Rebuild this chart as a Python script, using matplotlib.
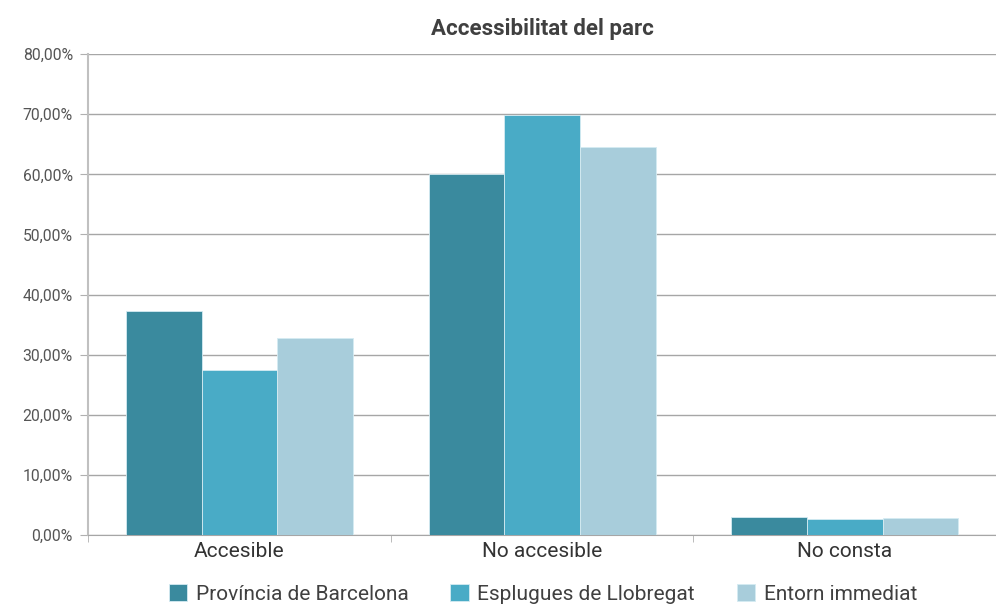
import numpy as np
import matplotlib.pyplot as plt
from matplotlib.ticker import FuncFormatter

plt.rcParams['font.family'] = ['Roboto', 'DejaVu Sans']

categories = ['Accesible', 'No accesible', 'No consta']
series = ['Província de Barcelona', 'Esplugues de Llobregat', 'Entorn immediat']
provincia = [37.25, 60.0, 3.0]
esplugues = [27.4, 69.85, 2.6]
entorn = [32.8, 64.5, 2.8]
colors = ['#3a8a9e', '#49abc6', '#a8cddb']

fig = plt.figure(figsize=(9.96, 6.15), dpi=100)
ax = fig.add_axes([0.0884, 0.130, 0.9116, 0.782])

x = np.arange(len(categories))
w = 0.25
for i, (vals, name) in enumerate(zip([provincia, esplugues, entorn], series)):
    ax.bar(x + (i - 1) * w, vals, w, color=colors[i], label=name,
           edgecolor='#d5ebf2', linewidth=0.6, zorder=3)

ax.set_xlim(-0.5, 2.5)
ax.set_ylim(0, 80)
ax.set_yticks(np.arange(0, 81, 10))
ax.yaxis.set_major_formatter(FuncFormatter(lambda v, p: f'{v:.2f}'.replace('.', ',') + '%'))
ax.grid(axis='y', color='#a6a6a6', linewidth=1, zorder=0)
ax.set_axisbelow(True)

ax.set_xticks(x)
ax.set_xticklabels(categories, fontsize=15, color='#333333')
ax.set_xticks([-0.5, 0.5, 1.5, 2.5], minor=True)
ax.tick_params(axis='x', which='major', length=0, pad=5)
ax.tick_params(axis='x', which='minor', length=5, color='#b0b0b0')
ax.tick_params(axis='y', labelsize=11.3, labelcolor='#555555', length=6, color='#b0b0b0', pad=5)

for s in ['top', 'right']:
    ax.spines[s].set_visible(False)
ax.spines['left'].set_color('#c0c0c0')
ax.spines['left'].set_linewidth(1.5)
ax.spines['bottom'].set_color('#a6a6a6')

ax.set_title('Accessibilitat del parc', fontsize=16, fontweight='bold', color='#404040', pad=14)

fig.legend(loc='lower center', bbox_to_anchor=(0.545, -0.012), ncol=3, frameon=False,
           fontsize=15, handlelength=0.9, handleheight=0.9, columnspacing=2.0,
           handletextpad=0.4, labelcolor='#404040')

fig.savefig('out.png', dpi=100)
